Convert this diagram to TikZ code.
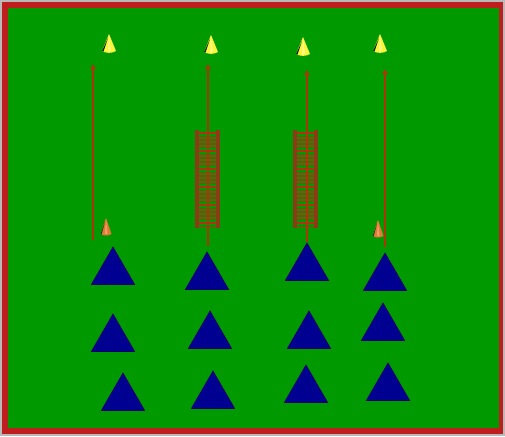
\documentclass[tikz,border=0pt]{standalone}
\usetikzlibrary{shapes.geometric,arrows.meta}
\definecolor{pitch}{RGB}{0,153,0}
\definecolor{framered}{RGB}{190,30,30}
\definecolor{edgegray}{RGB}{185,185,185}
\definecolor{cobalt}{RGB}{0,0,145}
\definecolor{runbrown}{RGB}{170,55,10}
\definecolor{railbrown}{RGB}{140,60,20}
\definecolor{rungred}{RGB}{190,45,20}
\definecolor{coneyellow}{RGB}{250,245,60}
\definecolor{coneorange}{RGB}{230,120,50}
\tikzset{
  marker/.style={regular polygon,regular polygon sides=3,minimum size=50pt,inner sep=0pt,
    fill=cobalt,draw=cobalt!70!black,line width=0.6pt},
  runline/.style={runbrown,line width=2.6pt,-{Latex[length=5pt,width=6.5pt]}},
  railbar/.style={railbrown,line width=4pt},
  rungbar/.style={rungred!75!railbrown,line width=1.5pt},
}
\begin{document}
\begin{tikzpicture}[x=1pt,y=-1pt]
  \useasboundingbox (0,0) rectangle (505,436);
  % field
  \fill[edgegray] (0,0) rectangle (505,436);
  \fill[framered] (2,2) rectangle (503,434);
  \fill[pitch] (8,8) rectangle (499,428);
  % start and end points of the runs
  \coordinate (s1) at (93,240);  \coordinate (e1) at (93,64);
  \coordinate (s2) at (208,246); \coordinate (e2) at (208,64);
  \coordinate (s3) at (307,242); \coordinate (e3) at (307,70);
  \coordinate (s4) at (385,247); \coordinate (e4) at (385,69);
  % ladders
  \foreach \lx in {197,295}{
    \foreach \ly in {133,136.6,...,227} \draw[rungbar] (\lx,\ly) -- (\lx+21,\ly);
    \draw[railbar] (\lx,130) -- (\lx,228);
    \draw[railbar] (\lx+21,130) -- (\lx+21,228);
  }
  % runs
  \foreach \i in {1,...,4} \draw[runline] (s\i) -- (e\i);
  % yellow cones
  \foreach \cx/\cy in {109/34,211/35,303/37,380/34}{
    \fill[coneyellow] (\cx,\cy) -- (\cx+7,\cy+17) .. controls (\cx+3,\cy+19.5) and (\cx-3,\cy+19.5) .. (\cx-7,\cy+17) -- cycle;
    \fill[black!70!pitch] (\cx-1,\cy+4) -- (\cx-7,\cy+17) -- (\cx-5.5,\cy+17.6) -- cycle;
    \fill[white,opacity=0.35] (\cx,\cy+1) -- (\cx+2,\cy+17) -- (\cx-1,\cy+17) -- cycle;
  }
  % orange cones
  \foreach \cx/\cy in {106/218,378/220}{
    \fill[coneorange] (\cx,\cy) -- (\cx+5.5,\cy+16) .. controls (\cx+2,\cy+18) and (\cx-2,\cy+18) .. (\cx-5.5,\cy+16) -- cycle;
    \fill[black!60!pitch] (\cx-1,\cy+4) -- (\cx-5.5,\cy+16) -- (\cx-4.5,\cy+16.6) -- cycle;
    \fill[white,opacity=0.3] (\cx,\cy+1) -- (\cx+1.5,\cy+16) -- (\cx-1,\cy+16) -- cycle;
  }
  % markers
  \node[marker] (m11) at (113,272) {};
  \node[marker] (m12) at (207,277) {};
  \node[marker] (m13) at (307,268) {};
  \node[marker] (m14) at (385,278) {};
  \node[marker] (m21) at (113,339) {};
  \node[marker] (m22) at (210,336) {};
  \node[marker] (m23) at (309,336) {};
  \node[marker] (m24) at (383,328) {};
  \node[marker] (m31) at (123,398) {};
  \node[marker] (m32) at (213,396) {};
  \node[marker] (m33) at (306,390) {};
  \node[marker] (m34) at (388,388) {};
\end{tikzpicture}
\end{document}
